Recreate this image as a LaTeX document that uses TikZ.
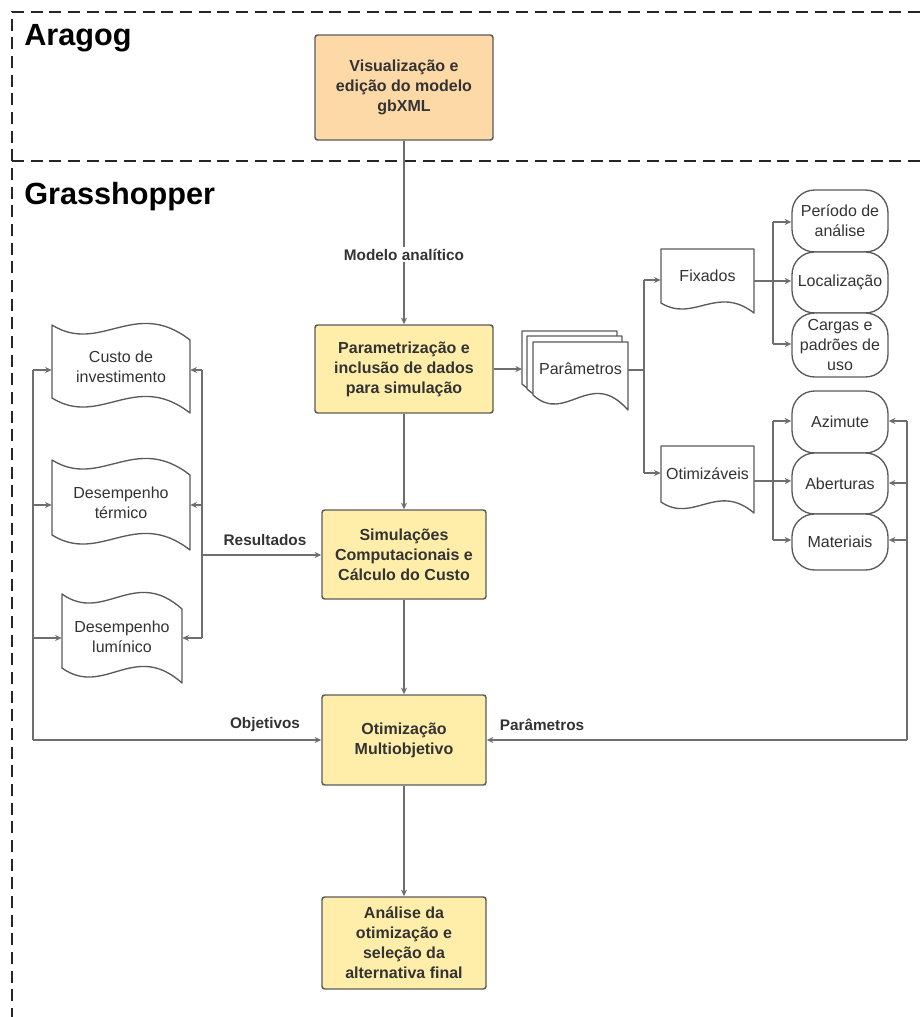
\documentclass[tikz,border=0pt]{standalone}
\usepackage{fontspec}
\setmainfont{Liberation Sans}
\usetikzlibrary{arrows.meta,calc}
\definecolor{strokeC}{HTML}{5A5A5A}
\definecolor{lineC}{HTML}{6E6E6E}
\definecolor{textC}{HTML}{333333}
\definecolor{orangeF}{HTML}{FED9A8}
\definecolor{yellowF}{HTML}{FFEEAA}
\tikzset{
 box/.style={draw=strokeC, line width=1.1pt, rounded corners=2pt, align=center, font=\bfseries\fontsize{12}{15}\selectfont, text=textC, fill=yellowF},
 pill/.style={draw=strokeC, line width=1pt, rounded corners=17pt, fill=white, align=center, font=\fontsize{12}{15}\selectfont, text=textC, minimum width=72pt, inner sep=1pt},
 shp/.style={draw=strokeC, line width=1pt, fill=white, line join=round},
 lbl/.style={align=center, font=\fontsize{12}{15}\selectfont, text=textC, inner sep=0pt},
 conn/.style={draw=lineC, line width=0.8pt},
 arr/.style={conn, -{Stealth[length=5pt,width=4.5pt]}},
 tag/.style={font=\bfseries\fontsize{11.5}{14}\selectfont, text=textC, inner sep=1pt},
 frame/.style={line width=1.1pt, dash pattern=on 9pt off 5pt, draw=black!85},
 titletext/.style={font=\bfseries\fontsize{23}{28}\selectfont, anchor=west, text=black, inner sep=0pt}
}
\newcommand\tapenode[7]{%
 \pgfmathsetmacro\tw{#4-#2}%
 \pgfmathsetmacro\cxa{#2+0.35*\tw}%
 \pgfmathsetmacro\cxb{#2+0.6*\tw}%
 \pgfmathsetmacro\mw{\tw*0.75}%
 \pgfmathsetmacro\mh{(#5-#3)*0.75}%
 \draw[shp] (#2,#3) .. controls (\cxa,#3+2*#6) and (\cxb,#3-1.87*#6) .. (#4,#3+#6) -- (#4,#5) .. controls (\cxb,#5-2.87*#6) and (\cxa,#5+#6) .. (#2,#5-#6) -- cycle;
 \node[lbl, minimum width=\mw pt, minimum height=\mh pt] (#1) at ({(#2+#4)/2},{(#3+#5)/2-2}) {#7};
}
\newcommand\docnode[7]{%
 \pgfmathsetmacro\tw{#4-#2}%
 \pgfmathsetmacro\cxa{#2+0.35*\tw}%
 \pgfmathsetmacro\cxb{#2+0.6*\tw}%
 \pgfmathsetmacro\mw{\tw*0.75}%
 \pgfmathsetmacro\mh{(#5-#6-#3)*0.75}%
 \draw[shp] (#2,#3) -- (#4,#3) -- (#4,#5) .. controls (\cxb,#5-2.87*#6) and (\cxa,#5+#6) .. (#2,#5-#6) -- cycle;
 \node[lbl, minimum width=\mw pt, minimum height=\mh pt] (#1) at ({(#2+#4)/2},{(#3+#5-#6)/2}) {#7};
}
\begin{document}
\begin{tikzpicture}[x=0.75pt,y=-0.75pt]
\useasboundingbox (0,0) rectangle (922,1017);
% frame
\draw[frame] (12,1020) -- (12,12) -- (925,12);
\draw[frame] (12,161) -- (925,161);
\node[titletext] (aragog) at (24,38) {Aragog};
\node[titletext] (grass) at (24,197) {Grasshopper};

% main boxes
\node[box, fill=orangeF, minimum width=133.5pt, minimum height=78.75pt] (b1) at (404,87.5) {Visualização e\\edição do modelo\\gbXML};
\node[box, minimum width=133.5pt, minimum height=66pt] (b2) at (404,369) {Parametrização e\\inclusão de dados\\para simulação};
\node[box, minimum width=123pt, minimum height=66.75pt] (b3) at (404,554.5) {Simulações\\Computacionais e\\Cálculo do Custo};
\node[box, minimum width=123pt, minimum height=67.5pt] (b4) at (404,740) {Otimização\\Multiobjetivo};
\node[box, minimum width=123pt, minimum height=69pt] (b5) at (404,943) {Análise da\\otimização e\\seleção da\\alternativa final};

% parameter stack
\docnode{parback}{522}{331}{617}{399}{15}{}
\docnode{parmid}{527}{336}{622}{404}{15}{}
\docnode{par}{533}{342}{628}{410}{15}{Parâmetros}
\docnode{fix}{661}{249}{754}{313}{10}{Fixados}
\docnode{otz}{661}{446}{754}{513}{11}{Otimizáveis}

% pills
\node[pill, minimum height=46.5pt] (per) at (840,221) {Período de\\análise};
\node[pill, minimum height=45.75pt] (loc) at (840,282.5) {Localização};
\node[pill, minimum height=48pt] (car) at (840,345) {Cargas e\\padrões de\\uso};
\node[pill, minimum height=46.5pt] (azi) at (840,422) {Azimute};
\node[pill, minimum height=45.75pt] (abe) at (840,483.5) {Aberturas};
\node[pill, minimum height=42pt] (mat) at (840,542) {Materiais};

% tapes
\tapenode{custo}{52}{325}{190}{413}{15}{Custo de\\investimento}
\tapenode{term}{52}{460}{190}{550}{15}{Desempenho\\térmico}
\tapenode{lum}{62}{594}{182}{683}{15}{Desempenho\\lumínico}

% main flow
\draw[arr] (b1) -- node[tag, fill=white, pos=0.62] (lblmod) {Modelo analítico} (b2);
\draw[arr] (b2) -- (b3);
\draw[arr] (b3) -- (b4);
\draw[arr] (b4) -- (b5);

% to parameters
\coordinate (pin) at (522,369);
\draw[arr] (b2.east |- pin) -- (pin);
\coordinate (pj) at (644,370);
\coordinate (pjt) at (644,280);
\coordinate (pjb) at (644,473);
\draw[conn] (par.east |- pj) -- (pj);
\draw[conn] (pjt) -- (pjb);
\draw[arr] (pjt) -- (pjt -| fix.west);
\draw[arr] (pjb) -- (pjb -| otz.west);

% fixed branch
\coordinate (fj) at (773,281);
\coordinate (fjt) at (773,222);
\coordinate (fjb) at (773,344);
\draw[conn] (fix.east |- fj) -- (fj);
\draw[conn] (fjt) -- (fjb);
\draw[arr] (fjt) -- (fjt -| per.west);
\draw[arr] (fj) -- (fj -| loc.west);
\draw[arr] (fjb) -- (fjb -| car.west);

% optimizable branch
\coordinate (oj) at (773,481);
\coordinate (ojt) at (773,421);
\coordinate (ojb) at (773,540);
\draw[conn] (otz.east |- oj) -- (oj);
\draw[conn] (ojt) -- (ojb);
\draw[arr] (ojt) -- (ojt -| azi.west);
\draw[arr] (oj) -- (oj -| abe.west);
\draw[arr] (ojb) -- (ojb -| mat.west);

% right loop
\coordinate (rt) at (907,421);
\coordinate (rm) at (907,483);
\coordinate (rb) at (907,540);
\coordinate (rc) at (907,740);
\draw[conn] (rt) -- (rc);
\draw[arr] (rt) -- (rt -| azi.east);
\draw[arr] (rm) -- (rm -| abe.east);
\draw[arr] (rb) -- (rb -| mat.east);
\draw[arr] (rc) -- (rc -| b4.east);
\node[tag] (lblpar) at (542,725) {Parâmetros};

% results
\coordinate (st) at (202,370);
\coordinate (sm) at (202,505);
\coordinate (sb) at (202,638);
\coordinate (sc) at (202,555);
\draw[conn] (st) -- (sb);
\draw[arr] (st) -- (st -| custo.east);
\draw[arr] (sm) -- (sm -| term.east);
\draw[arr] (sb) -- (sb -| lum.east);
\draw[arr] (sc) -- (sc -| b3.west);
\node[tag] (lblres) at (265,540) {Resultados};

% objectives
\coordinate (lt) at (33,370);
\coordinate (lm) at (33,505);
\coordinate (lb) at (33,638);
\coordinate (lc) at (33,740);
\draw[conn] (lt) -- (lc);
\draw[arr] (lt) -- (lt -| custo.west);
\draw[arr] (lm) -- (lm -| term.west);
\draw[arr] (lb) -- (lb -| lum.west);
\draw[arr] (lc) -- (lc -| b4.west);
\node[tag] (lblobj) at (265,725) {Objetivos};
\end{tikzpicture}
\end{document}
